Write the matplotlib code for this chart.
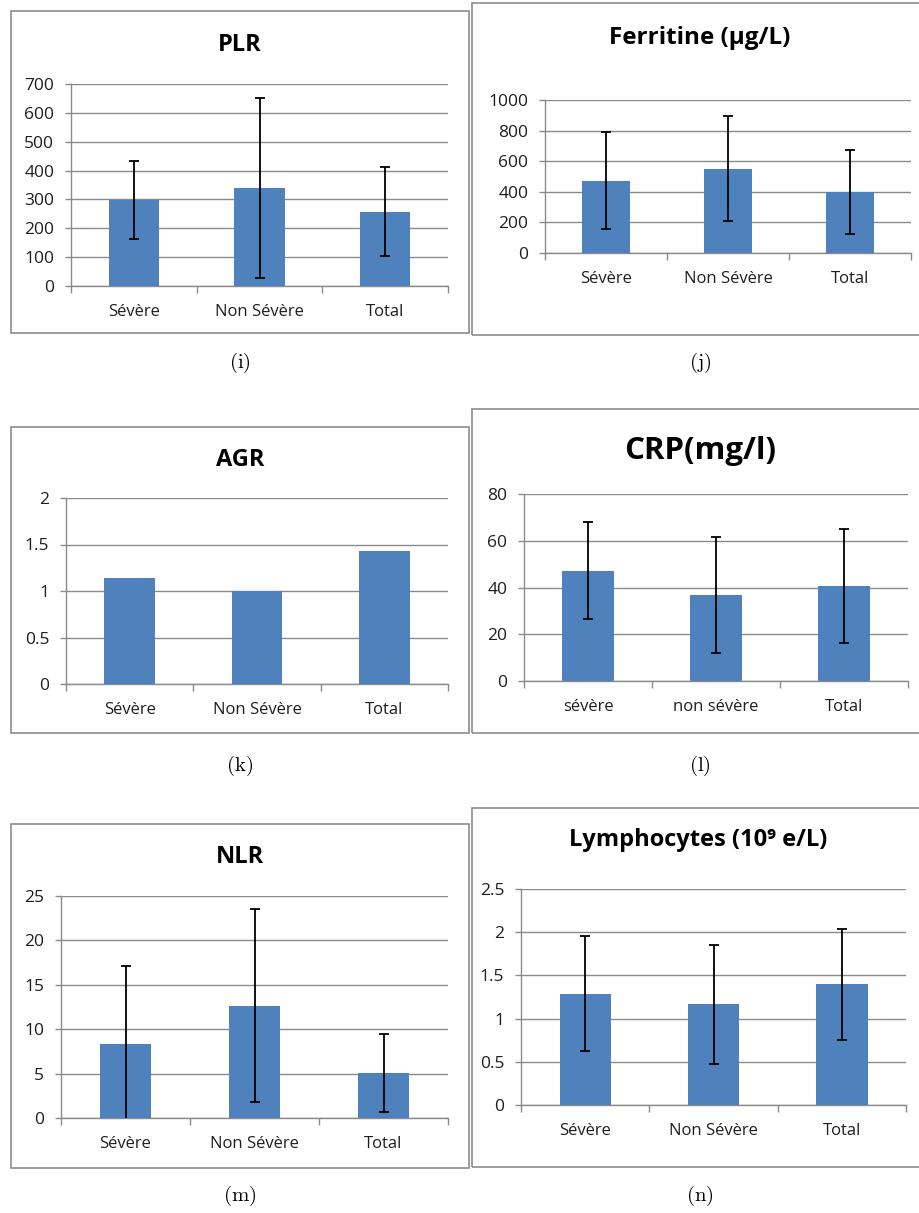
import matplotlib
matplotlib.use("Agg")
import matplotlib.pyplot as plt
from matplotlib.patches import Rectangle

plt.rcParams['mathtext.fontset'] = 'cm'

# ---------------- data ----------------
cats_upper = ["Sévère", "Non Sévère", "Total"]
cats_lower = ["sévère", "non sévère", "Total"]

plr_mean = [298, 341, 258]
plr_err = [136, 312, 154]

ferr_mean = [472, 552, 400]
ferr_err = [316, 342, 274]

agr_mean = [1.14, 0.995, 1.425]

crp_mean = [47.2, 36.6, 40.6]
crp_err = [20.8, 24.8, 24.3]

nlr_mean = [8.35, 12.65, 5.05]
nlr_err = [8.75, 10.9, 4.4]

lym_mean = [1.29, 1.165, 1.395]
lym_err = [0.665, 0.69, 0.64]

W, H = 919, 1213
DPI = 100
BAR = '#4F81BD'
GRID = '#8a8a8a'
TXT = '#1e1e1e'
FONT = ['Open Sans', 'DejaVu Sans']

fig = plt.figure(figsize=(W / DPI, H / DPI), dpi=DPI)
fig.patch.set_facecolor('white')


def fx(x):
    return x / W


def fy(y):
    return 1 - y / H


def box(l, t, r, b):
    fig.patches.append(Rectangle((fx(l), fy(b)), fx(r) - fx(l), fy(t) - fy(b),
                                 transform=fig.transFigure, fill=False,
                                 edgecolor='#8c8c8c', linewidth=1.2))


def panel(rect, cats, means, errs, ymax, ystep, yfmt, title, tpos, tsize, caption, cpos):
    l, t, r, b = rect
    ax = fig.add_axes([fx(l), fy(b), fx(r) - fx(l), fy(t) - fy(b)])
    x = list(range(len(cats)))
    ax.bar(x, means, width=0.4, color=BAR, zorder=3)
    if errs is not None:
        ax.errorbar(x, means, yerr=errs, fmt='none', ecolor='black',
                    elinewidth=1.3, capsize=3.8, capthick=1.3, zorder=4)
    ax.set_xlim(-0.5, len(cats) - 0.5)
    ax.set_ylim(0, ymax)
    n = int(round(ymax / ystep))
    yt = [i * ystep for i in range(n + 1)]
    ax.set_yticks(yt)
    ax.set_yticklabels([yfmt(v) for v in yt], fontfamily=FONT, fontsize=12.5, color=TXT)
    ax.yaxis.grid(True, color=GRID, linewidth=1.0, zorder=0)
    ax.set_axisbelow(True)
    ax.set_xticks([i - 0.5 for i in range(len(cats) + 1)])
    ax.set_xticklabels([''] * (len(cats) + 1))
    ax.set_xticks(x, minor=True)
    ax.set_xticklabels(cats, minor=True, fontfamily=FONT, fontsize=12, color=TXT)
    ax.tick_params(axis='x', which='major', length=5, color=GRID, width=1.0)
    ax.tick_params(axis='x', which='minor', length=0, pad=13)
    ax.tick_params(axis='y', length=4.5, color=GRID, width=1.0, pad=7.5)
    for s in ['top', 'right']:
        ax.spines[s].set_visible(False)
    for s in ['left', 'bottom']:
        ax.spines[s].set_color(GRID)
        ax.spines[s].set_linewidth(1.0)
    ax.set_facecolor('none')
    fig.text(fx(tpos[0]), fy(tpos[1]), title, ha='center', va='center',
             fontfamily=FONT, fontweight='bold', fontsize=tsize, color='black')
    fig.text(fx(cpos[0]), fy(cpos[1]), caption, ha='center', va='center',
             fontsize=15, color='black')
    return ax


def fmt_int(v):
    return str(int(round(v)))


def fmt_dec(v):
    return ('%g' % v)


# panel frames
box(11, 11, 469, 333)
box(472, 3, 925, 335)
box(11, 427, 469, 733)
box(472, 409, 925, 733)
box(11, 824, 469, 1168)
box(472, 808, 925, 1167)

panel((71, 84, 448, 286), cats_upper, plr_mean, plr_err, 700, 100, fmt_int,
      'PLR', (240, 45), 17, r'$\mathrm{(i)}$', (240, 363))
panel((545, 100, 911, 253), cats_upper, ferr_mean, ferr_err, 1000, 200, fmt_int,
      'Ferritine (µg/L)', (700, 38), 17.5, r'$\mathrm{(j)}$', (700, 363))
panel((66, 498, 448, 684), cats_upper, agr_mean, None, 2, 0.5, fmt_dec,
      'AGR', (240, 460), 17, r'$\mathrm{(k)}$', (240, 766))
panel((524, 494, 908, 681), cats_lower, crp_mean, crp_err, 80, 20, fmt_int,
      'CRP(mg/l)', (700, 451), 22.5, r'$\mathrm{(l)}$', (700, 766))
panel((61, 896, 448, 1118), cats_upper, nlr_mean, nlr_err, 25, 5, fmt_int,
      'NLR', (240, 857), 17, r'$\mathrm{(m)}$', (240, 1196))
panel((521, 889, 906, 1105), cats_upper, lym_mean, lym_err, 2.5, 0.5, fmt_dec,
      'Lymphocytes (10⁹ e/L)', (698, 840), 17, r'$\mathrm{(n)}$', (700, 1196))

fig.savefig('out.png', dpi=DPI, facecolor='white')
